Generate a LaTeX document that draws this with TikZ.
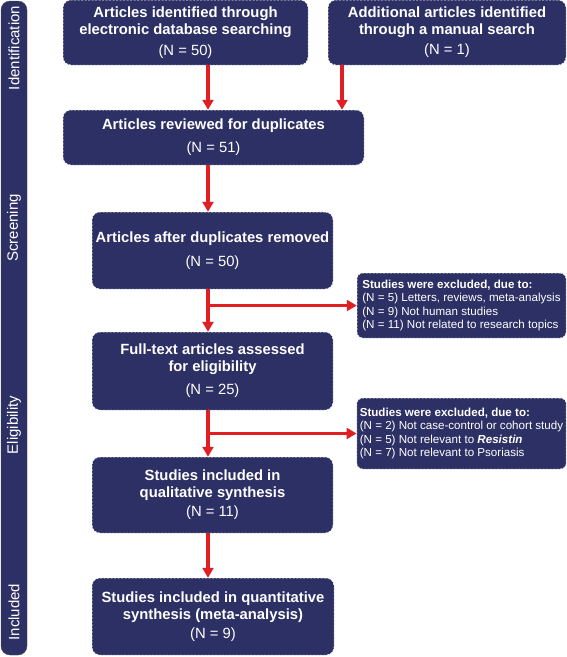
\documentclass[tikz,border=0pt]{standalone}
\usepackage{fontspec}
\setmainfont{Liberation Sans}
\usetikzlibrary{arrows.meta,positioning}
\definecolor{flowblue}{RGB}{45,48,100}
\definecolor{flowred}{RGB}{224,30,36}

\begin{document}
\begin{tikzpicture}[
        x=1pt, y=-1pt,
        every node/.style={align=center, text=white},
        stage/.style={draw=white!75, dash pattern=on 2pt off 1.5pt, line width=0.5pt, rounded corners=8pt, fill=flowblue, inner sep=0pt, font=\fontsize{14.8}{17}\selectfont\bfseries},
        exclude/.style={stage, align=left, rounded corners=6pt, inner xsep=3pt, font=\fontsize{11.6}{13.6}\selectfont},
        phase/.style={rotate=90, text=white!85, font=\fontsize{15}{17}\selectfont},
        flow/.style={draw=flowred, line width=3.5pt, -{Triangle[width=11pt,length=10pt]}}
    ]

    \useasboundingbox (0,0) rectangle (567,657);

    % Phase bar
    \node[draw=black!70, fill=flowblue, rounded corners=9pt, minimum width=26pt, minimum height=654pt, inner sep=0pt] (bar) at (14,328) {};
    \node[phase] (identification) at (14,48) {Identification};
    \node[phase] (screening) at (14,228) {Screening};
    \node[phase] (eligibility) at (14,425) {Eligibility};
    \node[phase] (included) at (14,612) {Included};

    % Nodes
    \node[stage, minimum width=245pt, minimum height=65pt] (database) at (185.5,32.5) {Articles identified through\\electronic database searching\\[4pt]\mdseries (N = 50)};
    \node[stage, minimum width=238pt, minimum height=65pt] (manual) at (447,32.5) {Additional articles identified\\through a manual search\\[3pt]\mdseries (N = 1)};
    \node[stage, minimum width=301pt, minimum height=55pt] (duplicates) at (213.5,137.5) {Articles reviewed for duplicates\\[6pt]\mdseries (N = 51)};
    \node[stage, minimum width=241pt, minimum height=77pt] (removed) at (212.5,250.5) {Articles after duplicates removed\\[7pt]\mdseries (N = 50)};
    \node[stage, minimum width=241pt, minimum height=78pt] (fulltext) at (212.5,371) {Full-text articles assessed\\for eligibility\\[6pt]\mdseries (N = 25)};
    \node[stage, minimum width=241pt, minimum height=76pt] (qualitative) at (212.5,495) {Studies included in\\qualitative synthesis\\[2pt]\mdseries (N = 11)};
    \node[stage, minimum width=242pt, minimum height=77pt] (quantitative) at (213,616.5) {Studies included in quantitative\\synthesis (meta-analysis)\\[2pt]\mdseries (N = 9)};

    \node[exclude, minimum width=209pt, minimum height=65pt] (exclone) at (461.5,305.5) {\textbf{Studies were excluded, due to:}\\(N = 5) Letters, reviews, meta-analysis\\(N = 9) Not human studies\\(N = 11) Not related to research topics};
    \node[exclude, minimum width=209pt, minimum height=71pt] (excltwo) at (461.5,433.5) {\textbf{Studies were excluded, due to:}\\(N = 2) Not case-control or cohort study\\(N = 5) Not relevant to \textbf{\textit{Resistin}}\\(N = 7) Not relevant to Psoriasis};

    % Connectors
    \coordinate (trunk) at (208,0);
    \coordinate (side) at (342,0);
    \draw[flow] (database.south -| trunk) -- (duplicates.north -| trunk);
    \draw[flow] (manual.south -| side) -- (duplicates.north -| side);
    \draw[flow] (duplicates.south -| trunk) -- (removed.north -| trunk);
    \draw[flow] (removed.south -| trunk) -- (fulltext.north -| trunk);
    \draw[flow] (trunk |- exclone.west) -- (exclone.west);
    \draw[flow] (fulltext.south -| trunk) -- (qualitative.north -| trunk);
    \draw[flow] (trunk |- excltwo.west) -- (excltwo.west);
    \draw[flow] (qualitative.south -| trunk) -- (quantitative.north -| trunk);

\end{tikzpicture}
\end{document}
